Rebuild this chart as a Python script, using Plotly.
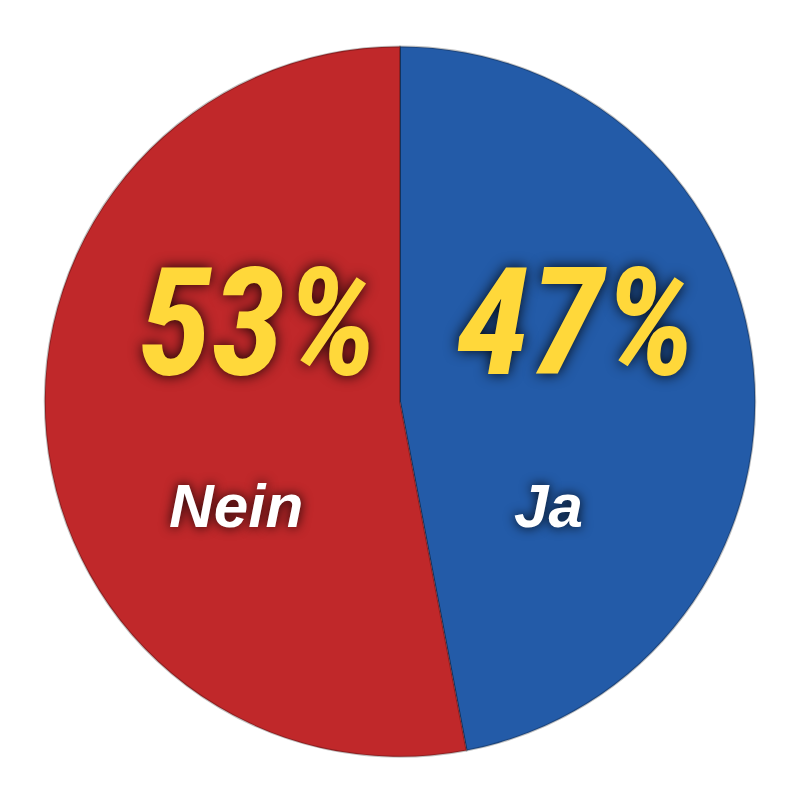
import plotly.graph_objects as go

labels = ["Ja", "Nein"]
values = [47, 53]
colors = ["#235BA8", "#C0282A"]

fig = go.Figure(go.Pie(
    labels=labels, values=values, sort=False, direction="clockwise", rotation=0,
    marker=dict(colors=colors, line=dict(color="rgba(0,0,0,0.25)", width=2)),
    textinfo="none", hoverinfo="label+percent", showlegend=False,
    domain=dict(x=[0.046, 0.934], y=[0.064, 0.952]),
))

pos = {"Nein": (250, 315, 228, 497), "Ja": (568, 315, 540, 497)}
for lab, val in zip(labels, values):
    x1, y1, x2, y2 = pos[lab]
    fig.add_annotation(x=x1/800, y=1-y1/800, xref="paper", yref="paper", showarrow=False,
        xanchor="center", yanchor="middle",
        text=f"<b><i>{val}%</i></b>",
        font=dict(family="Liberation Sans Narrow, Roboto Condensed, Liberation Sans", size=150,
                  color="#FFD83A", shadow="0px 0px 14px rgba(0,0,0,0.9)"))
    fig.add_annotation(x=x2/800, y=1-y2/800, xref="paper", yref="paper",
        showarrow=False, xanchor="center", yanchor="middle", text=f"<b><i>{lab}</i></b>",
        font=dict(family="Liberation Sans, Arial", size=62, color="white",
                  shadow="0px 0px 12px rgba(0,0,0,0.9)"))

fig.update_layout(width=800, height=800, margin=dict(l=0, r=0, t=0, b=0),
                  paper_bgcolor="white", plot_bgcolor="white")
fig.write_html("out.html")
